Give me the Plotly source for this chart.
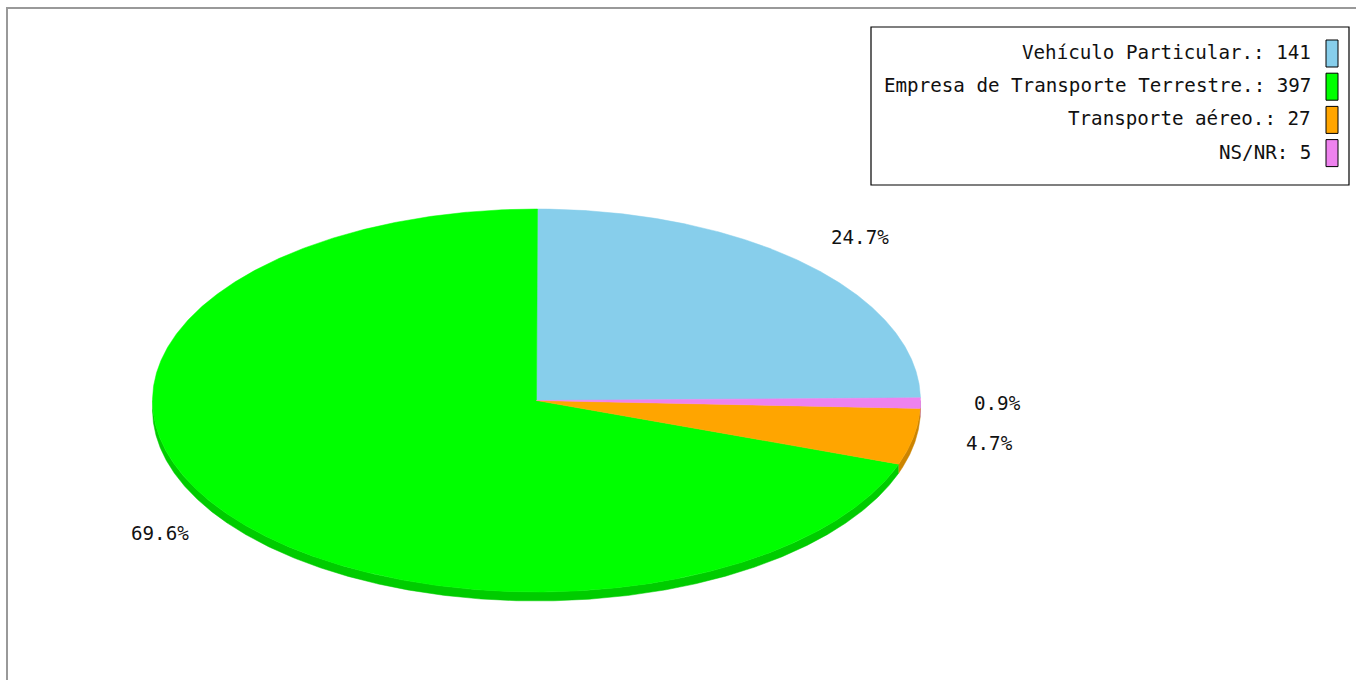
import numpy as np
import plotly.graph_objects as go

# ---- data ----
categories = ["Vehículo Particular.", "Empresa de Transporte Terrestre.", "Transporte aéreo.", "NS/NR"]
values = [141, 397, 27, 5]

# ---- style ----
top_colors = ["#87CEEB", "#00FF00", "#FFA500", "#EE82EE"]
side_colors = ["#6CA5BC", "#00CC00", "#CC8400", "#BE68BE"]
W, H = 1356, 680
CX, CY, RX, RY, THICK = 536.5, 400.5, 384, 191.5, 9
START_ANGLE = 0.8
LABEL_FACTOR = 1.2
FONT = dict(family="DejaVu Sans Mono, Liberation Mono, monospace", size=19.2, color="#111111")

total = sum(values)
fracs = [v / total for v in values]
starts, ends = [], []
a = START_ANGLE
for f in fracs:
    starts.append(a)
    a += f * 360.0
    ends.append(a)


def ex(t):
    return CX + RX * np.cos(np.radians(t))


def ey(t):
    return CY - RY * np.sin(np.radians(t))


fig = go.Figure()

# 3D side (rim) for front-facing parts
for i in range(len(values)):
    for off in (0.0, 360.0):
        lo, hi = max(starts[i] - off, 180.0), min(ends[i] - off, 360.0)
        if hi <= lo:
            continue
        t = np.linspace(lo, hi, max(int((hi - lo) * 4), 4))
        xs = np.concatenate([ex(t), ex(t[::-1])])
        ys = np.concatenate([ey(t), ey(t[::-1]) + THICK])
        fig.add_trace(go.Scatter(x=xs, y=ys, fill="toself", fillcolor=side_colors[i],
                                 mode="lines", line=dict(width=0.5, color=side_colors[i]),
                                 hoverinfo="skip", showlegend=False))

# top faces
for i in range(len(values)):
    t = np.linspace(starts[i], ends[i], max(int((ends[i] - starts[i]) * 4), 4))
    xs = np.concatenate([[CX], ex(t), [CX]])
    ys = np.concatenate([[CY], ey(t), [CY]])
    fig.add_trace(go.Scatter(x=xs, y=ys, fill="toself", fillcolor=top_colors[i],
                             mode="lines", line=dict(width=0.5, color=top_colors[i]),
                             hoverinfo="skip", showlegend=False))

# percentage labels
annotations = []
for i in range(len(values)):
    mid = (starts[i] + ends[i]) / 2
    lx = CX + RX * LABEL_FACTOR * np.cos(np.radians(mid))
    ly = CY - RY * LABEL_FACTOR * np.sin(np.radians(mid))
    annotations.append(dict(x=lx, y=ly, xref="x", yref="y", text=f"{fracs[i]*100:.1f}%",
                            showarrow=False, font=FONT, xanchor="center", yanchor="middle"))

# legend (text right-aligned, swatch on the right)
shapes = []
LEG_X0, LEG_Y0, LEG_X1, LEG_Y1 = 871, 27, 1349, 185
shapes.append(dict(type="rect", xref="x", yref="y", x0=LEG_X0, y0=LEG_Y0, x1=LEG_X1, y1=LEG_Y1,
                   line=dict(color="black", width=1.2), fillcolor="white", layer="above"))
ROW0, ROWSTEP = 52.5, 33.2
for i, (c, v) in enumerate(zip(categories, values)):
    yc = ROW0 + i * ROWSTEP
    annotations.append(dict(x=1313, y=yc, xref="x", yref="y", text=f"{c}: {v}",
                            showarrow=False, font=FONT, xanchor="right", yanchor="middle"))
    shapes.append(dict(type="rect", xref="x", yref="y", x0=1326, x1=1338, y0=yc - 12.5, y1=yc + 14.5,
                       line=dict(color="black", width=1), fillcolor=top_colors[i], layer="above"))

# page frame (top / left visible)
shapes.append(dict(type="rect", xref="x", yref="y", x0=7, y0=8, x1=W + 50, y1=H + 50,
                   line=dict(color="#999999", width=2), layer="above"))

fig.update_layout(
    width=W, height=H, margin=dict(l=0, r=0, t=0, b=0),
    paper_bgcolor="white", plot_bgcolor="white",
    xaxis=dict(range=[0, W], visible=False, fixedrange=True),
    yaxis=dict(range=[H, 0], visible=False, fixedrange=True),
    annotations=annotations, shapes=shapes, showlegend=False,
)

fig.write_html("out.html", config={"displayModeBar": False},
               post_script="document.body.style.margin='0';document.body.style.overflow='hidden';")
